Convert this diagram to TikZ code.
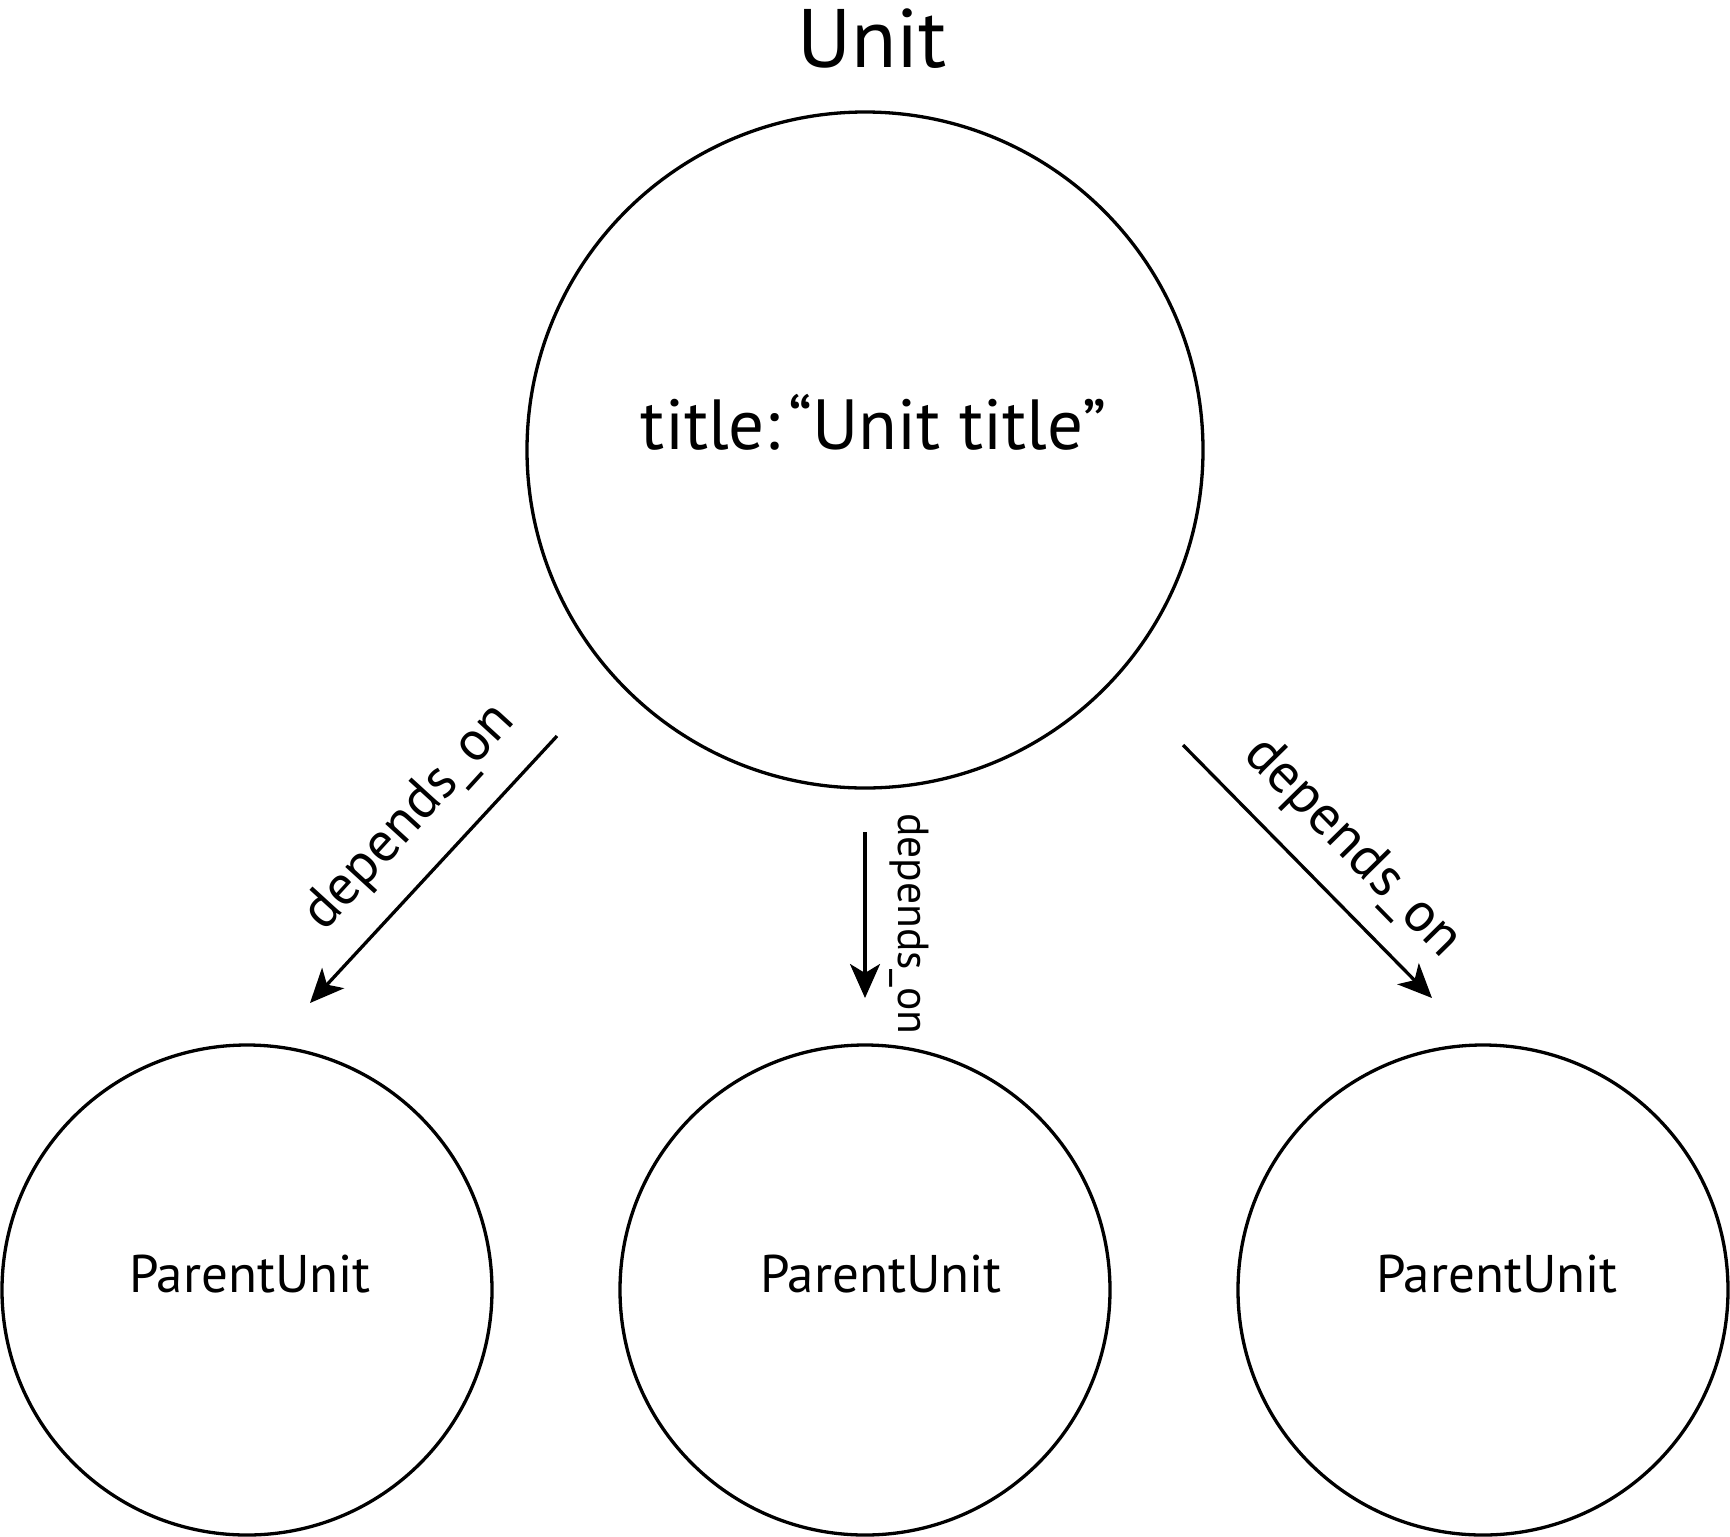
\documentclass[tikz,border=0pt]{standalone}
\usepackage{fontspec}
\setmainfont{PT Sans}
\usetikzlibrary{arrows.meta}
\begin{document}
\begin{tikzpicture}[x=1pt,y=-1pt,
  ring/.style={circle,draw,line width=3.3pt,inner sep=0pt,outer sep=0pt},
  arr/.style={line width=3.3pt,-{Stealth[length=34pt,width=30pt,inset=9pt]}},
  rel/.style={inner sep=0pt,font=\fontsize{56}{56}\selectfont},
  lbl/.style={inner sep=0pt,anchor=base}]
\useasboundingbox (0,0) rectangle (1730,1537);
\node[ring,minimum size=676pt] (unit) at (865,450) {};
\node[ring,minimum size=490pt] (p1) at (247,1290) {};
\node[ring,minimum size=490pt] (p2) at (865,1290) {};
\node[ring,minimum size=490pt] (p3) at (1483,1290) {};
\node[lbl,font=\fontsize{83}{83}\selectfont] (head) at (872,67) {Unit};
\node[lbl,font=\fontsize{71}{71}\selectfont] (ttl) at (874,449) {title:\kern8pt“Unit title”};
\node[lbl,font=\fontsize{53}{53}\selectfont] (t1) at (250,1292) {ParentUnit};
\node[lbl,font=\fontsize{53}{53}\selectfont] (t2) at (881,1292) {ParentUnit};
\node[lbl,font=\fontsize{53}{53}\selectfont] (t3) at (1497,1292) {ParentUnit};
\coordinate (a1s) at (557,736);
\coordinate (a1e) at (310,1003);
\coordinate (a2s) at (865,832);
\coordinate (a2e) at (865,998);
\coordinate (a3s) at (1183,745);
\coordinate (a3e) at (1432,998);
\draw[arr] (a1s) -- (a1e);
\draw[arr] (a2s) -- (a2e);
\draw[arr] (a3s) -- (a3e);
\node[rel,rotate=47.6] (l1) at (410,818) {depends\_on};
\node[rel,rotate=-90,font=\fontsize{43.5}{43.5}\selectfont] (l2) at (909,924) {depends\_on};
\node[rel,rotate=-45.5] (l3) at (1352,848) {depends\_on};
\end{tikzpicture}
\end{document}
